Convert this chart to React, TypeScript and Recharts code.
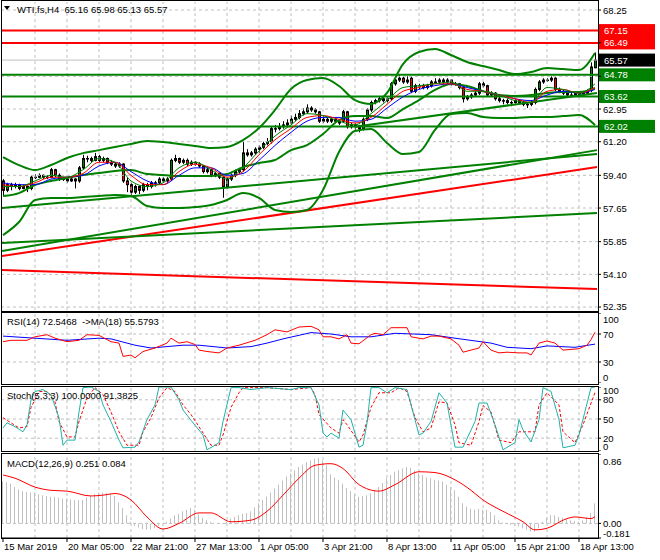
import React from 'react';
import { ComposedChart, Line, Bar, XAxis, YAxis, ReferenceLine } from 'recharts';

const FONT = '"Liberation Sans", Arial, sans-serif';
const FS = 9.5;

// H4 candles, [open, high, low, close], 15 Mar 2019 .. 18 Apr 2019
const candles: number[][] = [
  [59.1, 59.2, 58.3, 58.6], [58.6, 59.0, 58.5, 58.9], [58.9, 59.0, 58.6, 58.8], [58.8, 59.0, 58.7, 58.9], [58.9, 58.95, 58.6, 58.7],
  [58.7, 58.9, 58.65, 58.8], [58.8, 58.85, 58.5, 58.7], [58.7, 59.4, 58.6, 59.3], [59.3, 59.45, 59.2, 59.3], [59.3, 59.5, 59.25, 59.4],
  [59.4, 59.45, 59.2, 59.3], [59.3, 59.4, 59.2, 59.3], [59.3, 59.8, 59.25, 59.7], [59.7, 59.75, 59.3, 59.4], [59.4, 59.5, 59.1, 59.2],
  [59.2, 59.3, 59.1, 59.2], [59.2, 59.3, 59.0, 59.1], [59.1, 59.3, 59.05, 59.2], [59.2, 59.25, 58.7, 59.1], [59.1, 59.9, 59.0, 59.8],
  [59.8, 60.5, 59.7, 60.3], [60.3, 60.45, 60.1, 60.3], [60.3, 60.4, 60.1, 60.2], [60.2, 60.6, 60.15, 60.4], [60.4, 60.5, 60.1, 60.2],
  [60.2, 60.4, 60.1, 60.3], [60.3, 60.35, 60.0, 60.1], [60.1, 60.2, 59.9, 60.0], [60.0, 60.1, 59.8, 59.9], [59.9, 60.1, 59.8, 60.0],
  [60.0, 60.05, 59.0, 59.1], [59.1, 59.3, 58.5, 58.9], [58.9, 59.0, 58.3, 58.5], [58.5, 58.9, 58.4, 58.8], [58.8, 58.85, 58.4, 58.6],
  [58.6, 59.0, 58.5, 58.9], [58.9, 59.0, 58.6, 58.8], [58.8, 59.1, 58.7, 59.0], [59.0, 59.1, 58.8, 59.0], [59.0, 59.3, 58.9, 59.2],
  [59.2, 59.3, 59.0, 59.1], [59.1, 59.3, 59.0, 59.2], [59.2, 60.3, 59.1, 60.2], [60.2, 60.5, 60.1, 60.3], [60.3, 60.35, 60.0, 60.1],
  [60.1, 60.3, 60.0, 60.2], [60.2, 60.3, 59.9, 60.0], [60.0, 60.2, 59.9, 60.1], [60.1, 60.15, 59.9, 60.0], [60.0, 60.1, 59.8, 59.9],
  [59.9, 59.95, 59.5, 59.6], [59.6, 59.8, 59.5, 59.7], [59.7, 59.75, 59.3, 59.4], [59.4, 59.6, 59.3, 59.5], [59.5, 59.55, 59.2, 59.3],
  [59.3, 59.35, 58.2, 58.8], [58.8, 59.3, 58.7, 59.2], [59.2, 59.5, 59.1, 59.4], [59.4, 59.7, 59.3, 59.6], [59.6, 59.8, 59.5, 59.7],
  [59.7, 61.2, 59.6, 60.6], [60.6, 60.8, 60.4, 60.5], [60.5, 60.7, 60.4, 60.6], [60.6, 60.9, 60.5, 60.8], [60.8, 61.0, 60.6, 60.9],
  [60.9, 61.2, 60.8, 61.1], [61.1, 61.4, 61.0, 61.2], [61.2, 62.0, 61.1, 61.9], [61.9, 62.1, 61.7, 61.9], [61.9, 62.2, 61.8, 62.0],
  [62.0, 62.3, 61.9, 62.1], [62.1, 62.4, 62.0, 62.2], [62.2, 62.6, 62.1, 62.4], [62.4, 62.7, 62.3, 62.5], [62.5, 62.9, 62.4, 62.7],
  [62.7, 63.0, 62.6, 62.8], [62.8, 63.2, 62.7, 63.0], [63.0, 63.1, 62.8, 62.9], [62.9, 63.0, 62.7, 62.8], [62.8, 62.85, 62.2, 62.3],
  [62.3, 62.6, 62.2, 62.4], [62.4, 62.5, 62.2, 62.3], [62.3, 62.5, 62.2, 62.4], [62.4, 62.45, 62.2, 62.3], [62.3, 62.4, 62.1, 62.2],
  [62.3, 62.9, 62.2, 62.8], [62.8, 62.85, 61.9, 62.0], [62.0, 62.2, 61.9, 62.1], [62.1, 62.2, 61.8, 62.0], [62.0, 62.1, 61.7, 61.9],
  [61.9, 62.5, 61.8, 62.4], [62.4, 63.0, 62.3, 62.9], [62.9, 63.4, 62.8, 63.3], [63.3, 63.5, 63.2, 63.4], [63.4, 63.6, 63.3, 63.5],
  [63.5, 63.55, 63.3, 63.4], [63.4, 63.6, 63.3, 63.5], [63.5, 64.4, 63.4, 64.3], [64.3, 64.7, 64.2, 64.5], [64.5, 64.8, 64.4, 64.6],
  [64.6, 64.7, 64.3, 64.4], [64.4, 64.7, 64.3, 64.5], [64.6, 64.7, 63.8, 63.9], [63.9, 64.3, 63.8, 64.2], [64.2, 64.3, 64.0, 64.2],
  [64.2, 64.3, 64.0, 64.1], [64.1, 64.3, 64.0, 64.2], [64.2, 64.5, 64.1, 64.4], [64.4, 64.6, 64.3, 64.4], [64.4, 64.6, 64.3, 64.5],
  [64.5, 64.6, 64.3, 64.4], [64.4, 64.6, 64.3, 64.5], [64.5, 64.55, 64.2, 64.3], [64.3, 64.4, 64.2, 64.3], [64.3, 64.35, 64.0, 64.1],
  [64.1, 64.2, 63.3, 63.5], [63.5, 63.7, 63.4, 63.6], [63.6, 63.8, 63.5, 63.7], [63.7, 63.9, 63.6, 63.8], [63.8, 64.4, 63.7, 64.3],
  [64.3, 64.4, 64.1, 64.2], [64.2, 64.25, 63.6, 63.7], [63.7, 63.9, 63.6, 63.8], [63.8, 63.85, 63.4, 63.5], [63.5, 63.6, 63.3, 63.4],
  [63.4, 63.5, 63.2, 63.4], [63.4, 63.5, 63.2, 63.3], [63.3, 63.4, 63.1, 63.3], [63.3, 63.5, 63.2, 63.4], [63.4, 63.45, 63.2, 63.3],
  [63.3, 63.4, 63.1, 63.2], [63.2, 63.3, 63.0, 63.2], [63.2, 63.4, 63.1, 63.3], [63.3, 64.1, 63.2, 64.0], [64.0, 64.5, 63.9, 64.4],
  [64.4, 64.6, 64.3, 64.5], [64.5, 64.6, 64.4, 64.5], [64.5, 64.7, 64.4, 64.6], [64.6, 64.65, 63.9, 64.0], [64.0, 64.1, 63.8, 63.9],
  [63.9, 64.0, 63.7, 63.8], [63.8, 63.9, 63.6, 63.7], [63.7, 63.9, 63.6, 63.7], [63.7, 63.9, 63.6, 63.8], [63.8, 63.85, 63.6, 63.7],
  [63.7, 63.9, 63.6, 63.8], [63.8, 64.0, 63.7, 63.9], [63.95, 65.45, 63.85, 65.2], [65.16, 65.98, 65.13, 65.57],
];

// bands and moving averages, read every 4th bar
const BAND_STEP = 4;
const bbUpper = [60.38, 59.95, 59.68, 59.95, 60.33, 60.59, 60.75, 60.92, 61.08, 61.24, 61.18, 61.08, 60.97, 60.86, 60.92, 61.29, 61.93, 62.9, 64.02, 64.5, 64.61, 64.18, 63.43, 63.22, 63.81, 65.36, 66.0, 66.16, 65.84, 65.47, 65.25, 65.04, 64.82, 64.93, 65.14, 65.09, 65.04, 65.95];
const bbMiddle = [58.29, 58.45, 58.88, 59.1, 59.26, 59.42, 59.52, 59.63, 59.68, 59.47, 59.42, 59.36, 59.36, 59.36, 59.47, 59.84, 60.06, 60.22, 60.75, 61.02, 61.61, 62.36, 62.57, 62.57, 62.47, 62.95, 63.43, 63.97, 64.29, 64.18, 63.91, 63.7, 63.65, 63.7, 63.81, 63.86, 63.86, 64.07];
const bbLower = [56.2, 56.9, 58.08, 58.19, 58.19, 58.24, 58.29, 58.35, 58.29, 57.76, 57.65, 57.65, 57.7, 57.81, 58.08, 58.45, 58.19, 57.54, 57.44, 57.54, 58.61, 60.65, 61.77, 61.88, 61.13, 60.54, 60.65, 61.83, 62.68, 62.74, 62.52, 62.47, 62.47, 62.52, 62.52, 62.57, 62.63, 62.09];
const maFast = [58.8, 58.8, 59.1, 59.4, 59.3, 59.7, 60.3, 60.1, 59.1, 58.8, 59.0, 59.8, 60.1, 59.7, 59.2, 59.8, 60.7, 61.5, 62.1, 62.7, 62.6, 62.3, 62.1, 62.7, 63.4, 64.1, 64.2, 64.3, 64.4, 63.9, 63.9, 63.7, 63.4, 63.3, 64.1, 64.0, 63.8, 64.3];
const maMid = [58.9, 58.8, 59.0, 59.3, 59.3, 59.5, 60.1, 60.1, 59.4, 58.9, 58.9, 59.6, 60.0, 59.8, 59.3, 59.6, 60.5, 61.3, 61.9, 62.5, 62.6, 62.4, 62.2, 62.5, 63.2, 63.9, 64.1, 64.3, 64.3, 64.0, 63.9, 63.7, 63.5, 63.3, 63.9, 64.0, 63.8, 64.1];
const maSlow = [59.0, 58.9, 58.9, 59.2, 59.3, 59.4, 59.9, 60.1, 59.6, 59.1, 58.9, 59.4, 59.8, 59.8, 59.4, 59.5, 60.2, 61.0, 61.7, 62.3, 62.5, 62.5, 62.3, 62.4, 63.0, 63.6, 64.0, 64.2, 64.3, 64.1, 63.9, 63.7, 63.5, 63.4, 63.7, 63.9, 63.8, 64.0];

// straight lines: [bar, price] end points
const greenTrends: number[][][] = [
  [[-0.25, 55.78], [148.5, 57.38]],
  [[-0.25, 57.65], [148.5, 60.54]],
  [[-0.25, 55.35], [148.5, 60.75]],
  [[88, 62.0], [148.5, 63.81]],
];
const redTrends: number[][][] = [
  [[-0.25, 55.08], [148.5, 59.84]],
  [[-0.25, 54.33], [148.5, 53.31]],
];
const redLevels = [67.15, 66.49];
const greenLevels = [64.78, 63.62, 62.02];
const bidPrice = 65.57;

const priceTicks = [68.25, 66.5, 64.7, 62.95, 61.2, 59.4, 57.65, 55.85, 54.1, 52.35];
const priceLabels = ['68.25', '', '', '62.95', '61.20', '59.40', '57.65', '55.85', '54.10', '52.35'];

// RSI(14) and its MA(18): [bar, value]
const rsi = [[0, 59], [2, 61], [6, 61], [8, 66], [11, 69], [13, 64], [16, 59], [19, 61], [21, 69], [24, 68], [27, 59], [29, 57], [30, 38], [32, 40], [33, 36], [35, 45], [38, 50], [41, 57], [42, 64], [44, 57], [46, 59], [48, 55], [49, 47], [51, 45], [54, 43], [56, 50], [59, 54], [63, 61], [66, 69], [68, 76], [71, 73], [74, 80], [77, 81], [79, 76], [80, 66], [82, 66], [84, 63], [86, 69], [87, 57], [89, 56], [92, 69], [93, 71], [95, 69], [97, 79], [99, 79], [101, 79], [102, 66], [105, 63], [107, 67], [109, 67], [112, 63], [114, 54], [115, 44], [119, 50], [120, 59], [122, 47], [124, 43], [126, 44], [129, 43], [131, 43], [132, 40], [134, 57], [136, 60], [138, 57], [140, 47], [144, 49], [146, 54], [147, 62], [148, 72.55]];
const rsiMa = [[0, 67], [8, 64], [16, 61], [24, 64], [27, 63], [33, 54], [37, 50], [45, 54], [49, 54], [56, 50], [62, 52], [66, 57], [70, 63], [77, 72], [82, 70], [87, 66], [92, 66], [98, 71], [107, 69], [113, 64], [122, 57], [126, 51], [132, 49], [136, 53], [143, 51], [148, 55.58]];
const rsiTicks = [100, 70, 30, 0];
const rsiLabels = ['100', '70', '30', '0'];

// Stochastic(5,3,3)
const stochMain = [[0, 36], [1, 44], [3, 38], [5, 30], [6, 41], [7, 80], [8, 93], [10, 96], [12, 88], [14, 52], [15, 9], [16, 17], [18, 17], [19, 61], [20, 99], [22, 100], [24, 93], [25, 72], [27, 46], [29, 17], [30, 5], [33, 6], [34, 14], [36, 49], [38, 72], [39, 100], [42, 100], [44, 80], [45, 64], [47, 48], [50, 25], [51, 2], [53, 9], [54, 13], [55, 46], [57, 99], [59, 99], [62, 96], [66, 99], [72, 96], [74, 99], [77, 99], [79, 72], [80, 28], [81, 22], [82, 28], [84, 20], [85, 64], [87, 49], [89, 6], [90, 9], [91, 44], [92, 99], [94, 99], [96, 91], [98, 99], [101, 96], [104, 25], [105, 28], [107, 46], [109, 91], [111, 75], [113, 6], [115, 6], [118, 46], [119, 75], [121, 75], [123, 41], [125, 2], [128, 13], [129, 49], [130, 33], [132, 14], [134, 49], [135, 99], [137, 93], [139, 49], [140, 5], [143, 9], [144, 25], [147, 99], [148, 100]];
const stochSignal = [[0, 52], [2, 44], [4, 36], [6, 38], [7, 68], [9, 93], [11, 93], [13, 77], [14, 46], [16, 22], [18, 22], [19, 46], [21, 83], [23, 99], [25, 88], [27, 61], [29, 30], [31, 9], [34, 9], [35, 30], [37, 52], [39, 83], [41, 99], [43, 93], [45, 72], [47, 57], [49, 38], [52, 9], [54, 9], [55, 25], [57, 68], [59, 91], [60, 99], [66, 99], [72, 96], [77, 99], [78, 88], [79, 57], [82, 36], [84, 28], [85, 49], [86, 41], [89, 14], [90, 25], [92, 68], [94, 91], [97, 91], [99, 99], [101, 93], [103, 52], [105, 30], [107, 36], [109, 77], [111, 75], [113, 41], [114, 13], [117, 9], [119, 46], [120, 71], [122, 61], [124, 17], [127, 13], [129, 30], [131, 30], [133, 30], [134, 72], [136, 91], [139, 72], [140, 30], [143, 13], [145, 41], [148, 91.38]];
const stochTicks = [100, 80, 50, 20, 0];
const stochLabels = ['100', '80', '50', '20', '0'];

// MACD(12,26,9): histogram per bar, signal [bar, value]
const macdHist = [
  0.52, 0.51, 0.49, 0.45, 0.42, 0.4, 0.39, 0.38, 0.38, 0.36, 0.35, 0.34, 0.33, 0.33, 0.32, 0.31, 0.31, 0.3, 0.29, 0.29,
  0.29, 0.32, 0.34, 0.36, 0.38, 0.38, 0.38, 0.37, 0.34, 0.26, 0.19, 0.1, 0.02, -0.03, -0.05, -0.07, -0.08, -0.08, -0.06, -0.03,
  0.0, 0.02, 0.06, 0.1, 0.12, 0.15, 0.17, 0.19, 0.17, 0.11, 0.07, 0.04, 0.02, 0.0, 0.0, -0.01, 0.02, 0.06, 0.08, 0.1,
  0.12, 0.13, 0.15, 0.2, 0.25, 0.29, 0.33, 0.38, 0.43, 0.48, 0.53, 0.58, 0.62, 0.66, 0.7, 0.73, 0.76, 0.78, 0.8, 0.81,
  0.78, 0.72, 0.61, 0.57, 0.54, 0.49, 0.44, 0.4, 0.36, 0.33, 0.34, 0.35, 0.37, 0.41, 0.45, 0.5, 0.56, 0.6, 0.64, 0.66,
  0.68, 0.7, 0.69, 0.66, 0.62, 0.6, 0.57, 0.56, 0.54, 0.53, 0.52, 0.48, 0.45, 0.41, 0.33, 0.25, 0.21, 0.18, 0.17, 0.18,
  0.17, 0.17, 0.14, 0.1, 0.04, 0.01, -0.01, -0.02, -0.03, -0.04, -0.06, -0.08, -0.1, -0.1, -0.06, 0.02, 0.07, 0.1, 0.1, 0.08,
  0.07, 0.05, 0.04, 0.03, 0.02, 0.04, 0.08, 0.13, 0.251,
];
const macdSignal = [[0, 0.6], [3, 0.56], [8, 0.45], [12, 0.41], [16, 0.4], [22, 0.34], [25, 0.35], [28, 0.37], [32, 0.29], [36, 0.08], [40, -0.07], [44, 0.0], [49, 0.13], [52, 0.13], [57, 0.02], [62, 0.04], [66, 0.15], [70, 0.35], [74, 0.56], [78, 0.72], [82, 0.74], [85, 0.68], [89, 0.48], [94, 0.4], [98, 0.48], [104, 0.64], [108, 0.63], [113, 0.54], [117, 0.41], [120, 0.29], [125, 0.15], [130, 0.02], [133, -0.08], [136, -0.06], [141, 0.06], [143, 0.08], [147, 0.06], [148, 0.084]];
const macdTicks = [0.86, 0, -0.181];
const macdLabels = ['0.86', '0.00', '-0.181'];

const timeBars = [0, 16, 32, 48, 64, 80, 96, 112, 128, 144];
const timeLabels = ['15 Mar 2019', '20 Mar 05:00', '22 Mar 21:00', '27 Mar 13:00', '1 Apr 05:00', '3 Apr 21:00', '8 Apr 13:00', '11 Apr 05:00', '15 Apr 21:00', '18 Apr 13:00'];
const gridBars = [8, 16, 24, 32, 40, 48, 56, 64, 72, 80, 88, 96, 104, 112, 120, 128, 136, 144];

const X_DOMAIN = [-0.25, 148.75];
const GRID = '#c0c0c0';
const GREEN = '#008000';
const RED = '#ff0000';

const stepped = (vals: number[], step: number) => vals.map((v, k) => ({ i: k * step, v }));
const paired = (pts: number[][]) => pts.map(([i, v]) => ({ i, v }));

const Candle = (props: any) => {
  const { x, y, width, height, payload } = props;
  const [o, h, l, c] = payload.ohlc;
  const top = Math.min(y, y + height);
  const span = Math.abs(height);
  const k = span / (h - l);
  const cx = Math.round(x + width / 2) + 0.5;
  const yo = top + (h - o) * k;
  const yc = top + (h - c) * k;
  const bodyTop = Math.min(yo, yc);
  const bodyH = Math.max(0.5, Math.abs(yc - yo));
  return (
    <g>
      <line x1={cx} x2={cx} y1={top} y2={top + span} stroke="#000" strokeWidth={1} />
      <rect x={cx - 1} y={bodyTop} width={2} height={bodyH} fill={c >= o ? GREEN : RED} stroke="#000" strokeWidth={1} />
    </g>
  );
};

// right-hand scale labels; dy nudges the top and bottom labels inside the panel
const axisText = (ticks: number[], labels: string[], dys: number[]) => (props: any) => {
  const { x, y, payload } = props;
  const k = ticks.indexOf(payload.value);
  if (k < 0 || !labels[k]) return <g />;
  return (
    <text x={x} y={y + dys[k] + 3.5} fontSize={FS} fontFamily={FONT} fill="#000" textAnchor="start">
      {labels[k]}
    </text>
  );
};

const tag = (text: string, bg: string) => (p: any) => {
  const vb = p.viewBox;
  const x = vb.x + vb.width + 1;
  const y = vb.y;
  return (
    <g>
      <rect x={x} y={y - 6.5} width={56} height={13} fill={bg} />
      <text x={x + 5} y={y + 3.5} fontSize={FS} fontFamily={FONT} fill="#fff">{text}</text>
    </g>
  );
};

const TimeTick = (props: any) => {
  const { x, y, payload } = props;
  const idx = timeBars.indexOf(payload.value);
  return (
    <text x={x + 1} y={y + 6} fontSize={FS} fontFamily={FONT} fill="#000" textAnchor="start">
      {timeLabels[idx]}
    </text>
  );
};

const gridLines = (hValues: number[]) => [
  ...gridBars.map((b) => <ReferenceLine key={'gx' + b} x={b} stroke={GRID} strokeDasharray="3 3" />),
  ...hValues.map((v) => <ReferenceLine key={'gy' + v} y={v} stroke={GRID} strokeDasharray="3 3" />),
];

const lineProps = { dot: false, activeDot: false, isAnimationActive: false, dataKey: 'v' } as const;

const Header = ({ top, left = 7, children }: { top: number; left?: number; children: React.ReactNode }) => (
  <div style={{ position: 'absolute', left, top, fontSize: FS, fontFamily: FONT, color: '#000', whiteSpace: 'pre', lineHeight: '12px' }}>
    {children}
  </div>
);

export default function App() {
  const mainData = candles.map((c, i) => ({ i, range: [c[2], c[1]], ohlc: c }));
  const histData = macdHist.map((v, i) => ({ i, v }));
  const margin = { top: 0, right: 0, bottom: 0, left: 2 };
  const xAxis = <XAxis dataKey="i" type="number" domain={X_DOMAIN} allowDataOverflow hide />;
  const yAxisCommon = { orientation: 'right', width: 62, allowDataOverflow: true, interval: 0, axisLine: false, tickLine: { stroke: '#000' }, tickSize: 3 } as const;

  return (
    <div style={{ position: 'absolute', left: 0, top: 0, width: 660, height: 560, background: '#fff', overflow: 'hidden' }}>
      {/* price panel */}
      <div style={{ position: 'absolute', left: 0, top: 2 }}>
        <ComposedChart width={660} height={308} data={mainData} margin={margin}>
          {xAxis}
          <YAxis {...yAxisCommon} domain={[52.19, 68.68]} ticks={priceTicks}
            tick={axisText(priceTicks, priceLabels, [0, 0, 0, 0, 0, 0, 0, 0, 0, -1])} />
          {gridLines(priceTicks)}
          <ReferenceLine y={bidPrice} stroke={GRID} label={tag('65.57', '#000')} />
          {redLevels.map((v) => <ReferenceLine key={'r' + v} y={v} stroke={RED} strokeWidth={2} label={tag(v.toFixed(2), RED)} />)}
          {greenLevels.map((v) => <ReferenceLine key={'g' + v} y={v} stroke={GREEN} strokeWidth={2} label={tag(v.toFixed(2), GREEN)} />)}
          {redTrends.map((t, k) => <Line key={'rt' + k} data={paired(t)} {...lineProps} type="linear" stroke={RED} strokeWidth={2} />)}
          {greenTrends.map((t, k) => <Line key={'gt' + k} data={paired(t)} {...lineProps} type="linear" stroke={GREEN} strokeWidth={2} />)}
          <Line data={stepped(bbUpper, BAND_STEP)} {...lineProps} type="monotone" stroke={GREEN} strokeWidth={2} />
          <Line data={stepped(bbMiddle, BAND_STEP)} {...lineProps} type="monotone" stroke={GREEN} strokeWidth={2} />
          <Line data={stepped(bbLower, BAND_STEP)} {...lineProps} type="monotone" stroke={GREEN} strokeWidth={2} />
          <Line data={stepped(maSlow, BAND_STEP)} {...lineProps} type="monotone" stroke="#0000ff" strokeWidth={1} />
          <Line data={stepped(maMid, BAND_STEP)} {...lineProps} type="monotone" stroke={RED} strokeWidth={1} />
          <Line data={stepped(maFast, BAND_STEP)} {...lineProps} type="monotone" stroke={GREEN} strokeWidth={1} />
          <Bar dataKey="range" barSize={3} shape={<Candle />} isAnimationActive={false} />
        </ComposedChart>
      </div>

      {/* RSI */}
      <div style={{ position: 'absolute', left: 0, top: 313 }}>
        <ComposedChart width={660} height={70} margin={margin}>
          {xAxis}
          <YAxis {...yAxisCommon} domain={[0, 100]} ticks={rsiTicks} tick={axisText(rsiTicks, rsiLabels, [6, 0, 0, -6])} />
          {gridLines([70, 30])}
          <Line data={paired(rsiMa)} {...lineProps} type="linear" stroke="#0000ff" strokeWidth={1} />
          <Line data={paired(rsi)} {...lineProps} type="linear" stroke={RED} strokeWidth={1} />
        </ComposedChart>
      </div>

      {/* Stochastic */}
      <div style={{ position: 'absolute', left: 0, top: 387 }}>
        <ComposedChart width={660} height={64} margin={margin}>
          {xAxis}
          <YAxis {...yAxisCommon} domain={[0, 100]} ticks={stochTicks} tick={axisText(stochTicks, stochLabels, [3, 0, 0, 0, -5])} />
          {gridLines([80, 50, 20])}
          <Line data={paired(stochSignal)} {...lineProps} type="linear" stroke={RED} strokeWidth={1} strokeDasharray="3 2" />
          <Line data={paired(stochMain)} {...lineProps} type="linear" stroke="#20b2aa" strokeWidth={1} />
        </ComposedChart>
      </div>

      {/* MACD + time axis */}
      <div style={{ position: 'absolute', left: 0, top: 454 }}>
        <ComposedChart width={660} height={106} data={histData} margin={margin}>
          <XAxis dataKey="i" type="number" domain={X_DOMAIN} allowDataOverflow ticks={timeBars} interval={0} height={22}
            axisLine={{ stroke: '#000' }} tickLine={{ stroke: '#000' }} tickSize={4} tick={<TimeTick />} />
          <YAxis {...yAxisCommon} domain={[-0.181, 0.86]} ticks={macdTicks} tick={axisText(macdTicks, macdLabels, [7, 0, -5])} />
          {gridLines([0])}
          <Bar dataKey="v" barSize={1} fill={GRID} isAnimationActive={false} />
          <Line data={paired(macdSignal)} {...lineProps} type="monotone" stroke={RED} strokeWidth={1} />
        </ComposedChart>
      </div>

      {/* frames */}
      <svg width={660} height={560} style={{ position: 'absolute', left: 0, top: 0, pointerEvents: 'none' }}>
        <g fill="none" stroke="#000" strokeWidth={1}>
          <rect x={1.5} y={0.5} width={597} height={311} />
          <rect x={1.5} y={312.5} width={597} height={72} />
          <rect x={1.5} y={386.5} width={597} height={65} />
          <rect x={1.5} y={453.5} width={597} height={85} />
        </g>
        <path d="M4 6 L10 6 L7 10 Z" fill="#000" />
      </svg>

      <Header top={4} left={17}>{'WTI.fs,H4  65.16 65.98 65.13 65.57'}</Header>
      <Header top={316}>{'RSI(14) 72.5468  ->MA(18) 55.5793'}</Header>
      <Header top={390}>{'Stoch(5,3,3) 100.0000 91.3825'}</Header>
      <Header top={458}>{'MACD(12,26,9) 0.251 0.084'}</Header>
    </div>
  );
}
